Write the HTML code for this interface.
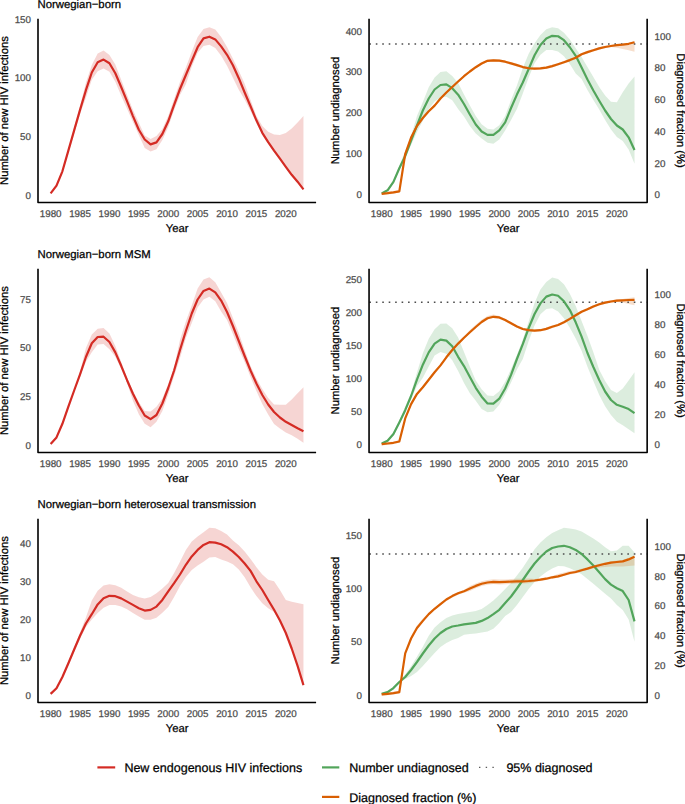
<!DOCTYPE html>
<html><head><meta charset="utf-8"><style>
html,body{margin:0;padding:0;background:#fff;}
body{width:685px;height:804px;overflow:hidden;}
svg{display:block;}
text{text-rendering:geometricPrecision;stroke-width:0.25px;paint-order:stroke;}
</style></head><body>
<svg width="685" height="804" viewBox="0 0 685 804" font-family="Liberation Sans, sans-serif">
<rect width="685" height="804" fill="#fff"/>
<text x="37.50" y="7.90" font-size="11.35" text-anchor="start" fill="#000" stroke="#000">Norwegian−born</text>
<path d="M50.64,192.80 L56.52,184.50 L62.40,169.70 L68.28,149.00 L74.16,127.50 L80.04,106.00 L85.92,82.80 L91.80,64.90 L97.68,53.40 L103.56,50.40 L109.44,54.90 L115.32,64.40 L121.19,79.80 L127.07,94.90 L132.95,110.00 L138.83,122.75 L144.71,135.50 L150.59,139.00 L156.47,136.10 L162.35,129.00 L168.23,116.00 L174.11,99.00 L179.99,82.00 L185.87,67.50 L191.75,51.80 L197.63,36.90 L203.51,29.00 L209.39,27.20 L215.27,29.50 L221.15,36.90 L227.03,46.90 L232.91,58.80 L238.78,70.70 L244.66,83.70 L250.54,100.00 L256.42,116.00 L262.30,125.90 L268.18,131.80 L274.06,134.40 L279.94,135.10 L285.82,133.10 L291.70,128.50 L297.58,122.60 L303.46,116.10 L303.46,190.30 L297.58,183.20 L291.70,176.30 L285.82,168.30 L279.94,160.10 L274.06,152.10 L268.18,143.60 L262.30,134.30 L256.42,123.20 L250.54,111.00 L244.66,99.60 L238.78,89.70 L232.91,77.70 L227.03,65.80 L221.15,55.80 L215.27,47.90 L209.39,44.70 L203.51,45.90 L197.63,52.80 L191.75,66.80 L185.87,84.20 L179.99,95.00 L174.11,110.00 L168.23,127.00 L162.35,140.00 L156.47,149.30 L150.59,151.50 L144.71,148.10 L138.83,135.05 L132.95,122.00 L127.07,108.85 L121.19,95.70 L115.32,81.80 L109.44,71.80 L103.56,68.40 L97.68,71.30 L91.80,79.80 L85.92,97.70 L80.04,114.00 L74.16,133.50 L68.28,153.00 L62.40,172.90 L56.52,186.70 L50.64,194.00 Z" fill="rgba(212,43,36,0.2)" stroke="none"/>
<path d="M50.64,193.40 L56.52,185.60 L62.40,171.30 L68.28,150.90 L74.16,130.40 L80.04,109.90 L85.92,90.20 L91.80,72.50 L97.68,62.30 L103.56,59.60 L109.44,63.20 L115.32,73.20 L121.19,87.00 L127.07,101.40 L132.95,116.10 L138.83,129.80 L144.71,139.50 L150.59,144.40 L156.47,142.40 L162.35,134.00 L168.23,121.30 L174.11,104.80 L179.99,89.00 L185.87,75.00 L191.75,61.00 L197.63,47.20 L203.51,38.40 L209.39,36.70 L215.27,39.40 L221.15,46.40 L227.03,54.80 L232.91,65.30 L238.78,78.20 L244.66,92.50 L250.54,106.20 L256.42,120.30 L262.30,132.80 L268.18,142.10 L274.06,150.60 L279.94,158.60 L285.82,166.80 L291.70,174.80 L297.58,181.70 L303.46,189.30" fill="none" stroke="#d42b24" stroke-width="2.2" stroke-linejoin="round" stroke-linecap="butt"/>
<path d="M38.00,18.70 L38.00,202.45 L316.10,202.45" fill="none" stroke="#000" stroke-width="1.6" stroke-linecap="butt" stroke-linejoin="round"/>
<text x="50.64" y="216.75" font-size="9.8" text-anchor="middle" fill="#4d4d4d" stroke="#4d4d4d">1980</text>
<text x="80.04" y="216.75" font-size="9.8" text-anchor="middle" fill="#4d4d4d" stroke="#4d4d4d">1985</text>
<text x="109.44" y="216.75" font-size="9.8" text-anchor="middle" fill="#4d4d4d" stroke="#4d4d4d">1990</text>
<text x="138.83" y="216.75" font-size="9.8" text-anchor="middle" fill="#4d4d4d" stroke="#4d4d4d">1995</text>
<text x="168.23" y="216.75" font-size="9.8" text-anchor="middle" fill="#4d4d4d" stroke="#4d4d4d">2000</text>
<text x="197.63" y="216.75" font-size="9.8" text-anchor="middle" fill="#4d4d4d" stroke="#4d4d4d">2005</text>
<text x="227.03" y="216.75" font-size="9.8" text-anchor="middle" fill="#4d4d4d" stroke="#4d4d4d">2010</text>
<text x="256.42" y="216.75" font-size="9.8" text-anchor="middle" fill="#4d4d4d" stroke="#4d4d4d">2015</text>
<text x="285.82" y="216.75" font-size="9.8" text-anchor="middle" fill="#4d4d4d" stroke="#4d4d4d">2020</text>
<text x="177.05" y="231.85" font-size="11.25" text-anchor="middle" fill="#000" stroke="#000">Year</text>
<text x="31.00" y="198.60" font-size="9.8" text-anchor="end" fill="#4d4d4d" stroke="#4d4d4d">0</text>
<text x="31.00" y="139.95" font-size="9.8" text-anchor="end" fill="#4d4d4d" stroke="#4d4d4d">50</text>
<text x="31.00" y="81.30" font-size="9.8" text-anchor="end" fill="#4d4d4d" stroke="#4d4d4d">100</text>
<text x="31.00" y="22.65" font-size="9.8" text-anchor="end" fill="#4d4d4d" stroke="#4d4d4d">150</text>
<text x="8.30" y="110.57" font-size="11.25" text-anchor="middle" fill="#000" stroke="#000" transform="rotate(-90 8.30 110.57)">Number of new HIV infections</text>
<path d="M381.69,192.80 L387.57,189.20 L393.45,180.30 L399.33,166.00 L405.21,151.00 L411.09,136.00 L416.97,116.00 L422.85,102.00 L428.73,87.20 L434.61,77.40 L440.49,72.00 L446.37,71.30 L452.24,76.00 L458.12,83.00 L464.00,94.50 L469.88,105.50 L475.76,116.00 L481.64,124.30 L487.52,128.80 L493.40,129.40 L499.28,125.30 L505.16,116.00 L511.04,100.00 L516.92,85.40 L522.80,68.10 L528.68,53.75 L534.56,43.15 L540.44,35.10 L546.32,29.25 L552.20,27.15 L558.08,28.20 L563.96,32.65 L569.83,39.45 L575.71,48.30 L581.59,57.00 L587.47,67.00 L593.35,77.00 L599.23,87.00 L605.11,95.50 L610.99,101.80 L616.87,102.20 L622.75,92.30 L628.63,83.40 L634.51,76.50 L634.51,163.80 L628.63,149.50 L622.75,141.00 L616.87,137.00 L610.99,129.50 L605.11,120.00 L599.23,109.50 L593.35,100.00 L587.47,90.00 L581.59,79.00 L575.71,73.55 L569.83,63.95 L563.96,56.35 L558.08,51.50 L552.20,50.00 L546.32,49.95 L540.44,54.75 L534.56,63.35 L528.68,77.50 L522.80,93.60 L516.92,109.00 L511.04,120.00 L505.16,130.40 L499.28,139.60 L493.40,143.70 L487.52,142.70 L481.64,138.60 L475.76,133.50 L469.88,126.00 L464.00,116.50 L458.12,109.00 L452.24,100.30 L446.37,96.80 L440.49,97.40 L434.61,101.50 L428.73,109.00 L422.85,120.70 L416.97,132.00 L411.09,145.00 L405.21,157.50 L399.33,170.00 L393.45,183.50 L387.57,191.40 L381.69,194.00 Z" fill="rgba(82,165,91,0.2)" stroke="none"/>
<path d="M381.69,192.50 L387.57,191.90 L393.45,191.10 L399.33,190.00 L405.21,152.70 L411.09,136.30 L416.97,124.70 L422.85,116.70 L428.73,109.90 L434.61,104.30 L440.49,97.20 L446.37,91.20 L452.24,85.70 L458.12,80.20 L464.00,74.90 L469.88,70.20 L475.76,65.90 L481.64,62.20 L487.52,59.50 L493.40,59.00 L499.28,59.30 L505.16,60.40 L511.04,62.10 L516.92,63.80 L522.80,65.75 L528.68,66.95 L534.56,67.30 L540.44,67.00 L546.32,66.30 L552.20,64.80 L558.08,62.90 L563.96,60.90 L569.83,58.80 L575.71,56.50 L581.59,52.90 L587.47,50.80 L593.35,48.90 L599.23,47.10 L605.11,45.70 L610.99,44.70 L616.87,43.90 L622.75,43.30 L628.63,42.80 L634.51,41.30 L634.51,51.70 L628.63,50.30 L622.75,49.10 L616.87,47.80 L610.99,47.00 L605.11,48.20 L599.23,49.70 L593.35,51.50 L587.47,53.40 L581.59,55.50 L575.71,59.10 L569.83,61.40 L563.96,63.50 L558.08,65.50 L552.20,67.40 L546.32,68.90 L540.44,69.60 L534.56,69.90 L528.68,69.55 L522.80,68.35 L516.92,66.40 L511.04,64.70 L505.16,63.00 L499.28,61.90 L493.40,61.60 L487.52,62.10 L481.64,64.80 L475.76,68.50 L469.88,72.80 L464.00,77.50 L458.12,82.80 L452.24,88.30 L446.37,93.80 L440.49,99.80 L434.61,106.90 L428.73,112.50 L422.85,119.30 L416.97,127.30 L411.09,138.90 L405.21,155.30 L399.33,192.60 L393.45,193.70 L387.57,194.50 L381.69,195.10 Z" fill="rgba(217,95,2,0.2)" stroke="none"/>
<line x1="369.35" y1="44.05" x2="647.15" y2="44.05" stroke="#4d4d4d" stroke-width="1.6" stroke-dasharray="1.6 4.85"/>
<path d="M381.69,193.40 L387.57,190.30 L393.45,181.90 L399.33,168.20 L405.21,156.00 L411.09,140.50 L416.97,125.30 L422.85,110.50 L428.73,98.50 L434.61,89.50 L440.49,85.00 L446.37,84.40 L452.24,88.20 L458.12,94.70 L464.00,104.00 L469.88,114.50 L475.76,124.50 L481.64,131.50 L487.52,134.90 L493.40,134.90 L499.28,130.40 L505.16,122.30 L511.04,108.00 L516.92,94.60 L522.80,82.50 L528.68,69.00 L534.56,55.30 L540.44,44.95 L546.32,38.60 L552.20,35.85 L558.08,36.25 L563.96,40.20 L569.83,47.25 L575.71,55.80 L581.59,67.50 L587.47,79.50 L593.35,90.50 L599.23,100.70 L605.11,110.50 L610.99,119.00 L616.87,125.50 L622.75,129.50 L628.63,137.30 L634.51,150.00" fill="none" stroke="#52a55b" stroke-width="2.2" stroke-linejoin="round" stroke-linecap="butt"/>
<path d="M381.69,193.80 L387.57,193.20 L393.45,192.40 L399.33,191.30 L405.21,154.00 L411.09,137.60 L416.97,126.00 L422.85,118.00 L428.73,111.20 L434.61,105.60 L440.49,98.50 L446.37,92.50 L452.24,87.00 L458.12,81.50 L464.00,76.20 L469.88,71.50 L475.76,67.20 L481.64,63.50 L487.52,60.80 L493.40,60.30 L499.28,60.60 L505.16,61.70 L511.04,63.40 L516.92,65.10 L522.80,67.05 L528.68,68.25 L534.56,68.60 L540.44,68.30 L546.32,67.60 L552.20,66.10 L558.08,64.20 L563.96,62.20 L569.83,60.10 L575.71,57.80 L581.59,54.20 L587.47,52.10 L593.35,50.20 L599.23,48.40 L605.11,47.00 L610.99,46.00 L616.87,45.20 L622.75,44.60 L628.63,43.80 L634.51,42.30" fill="none" stroke="#d95f02" stroke-width="2.2" stroke-linejoin="round" stroke-linecap="butt"/>
<path d="M369.05,18.70 L369.05,202.45 L647.15,202.45 L647.15,18.70" fill="none" stroke="#000" stroke-width="1.6" stroke-linecap="butt" stroke-linejoin="round"/>
<text x="381.69" y="216.75" font-size="9.8" text-anchor="middle" fill="#4d4d4d" stroke="#4d4d4d">1980</text>
<text x="411.09" y="216.75" font-size="9.8" text-anchor="middle" fill="#4d4d4d" stroke="#4d4d4d">1985</text>
<text x="440.49" y="216.75" font-size="9.8" text-anchor="middle" fill="#4d4d4d" stroke="#4d4d4d">1990</text>
<text x="469.88" y="216.75" font-size="9.8" text-anchor="middle" fill="#4d4d4d" stroke="#4d4d4d">1995</text>
<text x="499.28" y="216.75" font-size="9.8" text-anchor="middle" fill="#4d4d4d" stroke="#4d4d4d">2000</text>
<text x="528.68" y="216.75" font-size="9.8" text-anchor="middle" fill="#4d4d4d" stroke="#4d4d4d">2005</text>
<text x="558.08" y="216.75" font-size="9.8" text-anchor="middle" fill="#4d4d4d" stroke="#4d4d4d">2010</text>
<text x="587.47" y="216.75" font-size="9.8" text-anchor="middle" fill="#4d4d4d" stroke="#4d4d4d">2015</text>
<text x="616.87" y="216.75" font-size="9.8" text-anchor="middle" fill="#4d4d4d" stroke="#4d4d4d">2020</text>
<text x="508.10" y="231.85" font-size="11.25" text-anchor="middle" fill="#000" stroke="#000">Year</text>
<text x="362.00" y="198.30" font-size="9.8" text-anchor="end" fill="#4d4d4d" stroke="#4d4d4d">0</text>
<text x="362.00" y="157.35" font-size="9.8" text-anchor="end" fill="#4d4d4d" stroke="#4d4d4d">100</text>
<text x="362.00" y="116.40" font-size="9.8" text-anchor="end" fill="#4d4d4d" stroke="#4d4d4d">200</text>
<text x="362.00" y="75.45" font-size="9.8" text-anchor="end" fill="#4d4d4d" stroke="#4d4d4d">300</text>
<text x="362.00" y="34.50" font-size="9.8" text-anchor="end" fill="#4d4d4d" stroke="#4d4d4d">400</text>
<text x="654.50" y="198.40" font-size="9.8" text-anchor="start" fill="#4d4d4d" stroke="#4d4d4d">0</text>
<text x="654.50" y="166.62" font-size="9.8" text-anchor="start" fill="#4d4d4d" stroke="#4d4d4d">20</text>
<text x="654.50" y="134.84" font-size="9.8" text-anchor="start" fill="#4d4d4d" stroke="#4d4d4d">40</text>
<text x="654.50" y="103.06" font-size="9.8" text-anchor="start" fill="#4d4d4d" stroke="#4d4d4d">60</text>
<text x="654.50" y="71.28" font-size="9.8" text-anchor="start" fill="#4d4d4d" stroke="#4d4d4d">80</text>
<text x="654.50" y="39.50" font-size="9.8" text-anchor="start" fill="#4d4d4d" stroke="#4d4d4d">100</text>
<text x="338.80" y="110.57" font-size="11.25" text-anchor="middle" fill="#000" stroke="#000" transform="rotate(-90 338.80 110.57)">Number undiagnosed</text>
<text x="676.70" y="110.57" font-size="11.25" text-anchor="middle" fill="#000" stroke="#000" transform="rotate(90 676.70 110.57)">Diagnosed fraction (%)</text>
<text x="37.50" y="257.90" font-size="11.35" text-anchor="start" fill="#000" stroke="#000">Norwegian−born MSM</text>
<path d="M50.64,443.30 L56.52,436.30 L62.40,422.20 L68.28,404.70 L74.16,389.50 L80.04,372.00 L85.92,348.10 L91.80,334.50 L97.68,328.70 L103.56,328.00 L109.44,333.50 L115.32,346.00 L121.19,362.00 L127.07,378.00 L132.95,391.00 L138.83,402.10 L144.71,410.90 L150.59,411.60 L156.47,406.80 L162.35,398.50 L168.23,384.00 L174.11,367.50 L179.99,340.00 L185.87,321.50 L191.75,305.50 L197.63,288.40 L203.51,279.50 L209.39,277.20 L215.27,282.30 L221.15,292.40 L227.03,303.00 L232.91,318.00 L238.78,333.00 L244.66,350.00 L250.54,366.00 L256.42,378.50 L262.30,389.00 L268.18,398.00 L274.06,404.50 L279.94,404.80 L285.82,404.80 L291.70,399.40 L297.58,393.30 L303.46,387.20 L303.46,442.80 L297.58,438.70 L291.70,435.30 L285.82,432.60 L279.94,428.60 L274.06,424.00 L268.18,414.50 L262.30,404.00 L256.42,391.00 L250.54,377.00 L244.66,362.00 L238.78,349.00 L232.91,334.00 L227.03,320.00 L221.15,311.40 L215.27,301.30 L209.39,296.80 L203.51,299.50 L197.63,307.40 L191.75,323.00 L185.87,338.00 L179.99,358.00 L174.11,376.00 L168.23,394.50 L162.35,411.00 L156.47,421.80 L150.59,427.20 L144.71,423.80 L138.83,414.30 L132.95,400.70 L127.07,383.00 L121.19,368.80 L115.32,356.80 L109.44,349.20 L103.56,344.00 L97.68,344.50 L91.80,352.20 L85.92,361.70 L80.04,377.00 L74.16,391.50 L68.28,408.90 L62.40,425.40 L56.52,438.50 L50.64,444.50 Z" fill="rgba(212,43,36,0.2)" stroke="none"/>
<path d="M50.64,443.90 L56.52,437.40 L62.40,423.80 L68.28,406.80 L74.16,390.50 L80.04,374.30 L85.92,357.00 L91.80,343.30 L97.68,337.00 L103.56,336.70 L109.44,342.00 L115.32,352.40 L121.19,365.80 L127.07,380.20 L132.95,393.70 L138.83,405.50 L144.71,415.50 L150.59,419.10 L156.47,415.00 L162.35,403.50 L168.23,388.00 L174.11,370.50 L179.99,350.00 L185.87,331.00 L191.75,313.50 L197.63,299.50 L203.51,290.90 L209.39,288.60 L215.27,292.40 L221.15,300.60 L227.03,312.00 L232.91,326.00 L238.78,341.00 L244.66,356.00 L250.54,370.50 L256.42,383.50 L262.30,395.00 L268.18,404.50 L274.06,412.00 L279.94,417.50 L285.82,421.80 L291.70,425.00 L297.58,428.20 L303.46,431.20" fill="none" stroke="#d42b24" stroke-width="2.2" stroke-linejoin="round" stroke-linecap="butt"/>
<path d="M38.00,268.80 L38.00,452.45 L316.10,452.45" fill="none" stroke="#000" stroke-width="1.6" stroke-linecap="butt" stroke-linejoin="round"/>
<text x="50.64" y="466.75" font-size="9.8" text-anchor="middle" fill="#4d4d4d" stroke="#4d4d4d">1980</text>
<text x="80.04" y="466.75" font-size="9.8" text-anchor="middle" fill="#4d4d4d" stroke="#4d4d4d">1985</text>
<text x="109.44" y="466.75" font-size="9.8" text-anchor="middle" fill="#4d4d4d" stroke="#4d4d4d">1990</text>
<text x="138.83" y="466.75" font-size="9.8" text-anchor="middle" fill="#4d4d4d" stroke="#4d4d4d">1995</text>
<text x="168.23" y="466.75" font-size="9.8" text-anchor="middle" fill="#4d4d4d" stroke="#4d4d4d">2000</text>
<text x="197.63" y="466.75" font-size="9.8" text-anchor="middle" fill="#4d4d4d" stroke="#4d4d4d">2005</text>
<text x="227.03" y="466.75" font-size="9.8" text-anchor="middle" fill="#4d4d4d" stroke="#4d4d4d">2010</text>
<text x="256.42" y="466.75" font-size="9.8" text-anchor="middle" fill="#4d4d4d" stroke="#4d4d4d">2015</text>
<text x="285.82" y="466.75" font-size="9.8" text-anchor="middle" fill="#4d4d4d" stroke="#4d4d4d">2020</text>
<text x="177.05" y="481.85" font-size="11.25" text-anchor="middle" fill="#000" stroke="#000">Year</text>
<text x="31.00" y="448.70" font-size="9.8" text-anchor="end" fill="#4d4d4d" stroke="#4d4d4d">0</text>
<text x="31.00" y="400.03" font-size="9.8" text-anchor="end" fill="#4d4d4d" stroke="#4d4d4d">25</text>
<text x="31.00" y="351.37" font-size="9.8" text-anchor="end" fill="#4d4d4d" stroke="#4d4d4d">50</text>
<text x="31.00" y="302.70" font-size="9.8" text-anchor="end" fill="#4d4d4d" stroke="#4d4d4d">75</text>
<text x="8.30" y="360.62" font-size="11.25" text-anchor="middle" fill="#000" stroke="#000" transform="rotate(-90 8.30 360.62)">Number of new HIV infections</text>
<path d="M381.69,442.90 L387.57,439.70 L393.45,432.40 L399.33,420.50 L405.21,406.75 L411.09,393.00 L416.97,372.60 L422.85,353.30 L428.73,338.80 L434.61,329.20 L440.49,323.70 L446.37,323.50 L452.24,328.30 L458.12,337.50 L464.00,352.00 L469.88,366.80 L475.76,380.40 L481.64,389.20 L487.52,395.60 L493.40,396.00 L499.28,391.20 L505.16,381.70 L511.04,369.00 L516.92,355.00 L522.80,339.40 L528.68,321.50 L534.56,303.00 L540.44,289.60 L546.32,282.00 L552.20,277.60 L558.08,278.90 L563.96,284.30 L569.83,293.80 L575.71,306.00 L581.59,320.90 L587.47,335.90 L593.35,352.20 L599.23,369.80 L605.11,381.00 L610.99,390.10 L616.87,392.90 L622.75,388.50 L628.63,380.40 L634.51,372.20 L634.51,433.30 L628.63,429.20 L622.75,425.20 L616.87,421.80 L610.99,415.00 L605.11,406.20 L599.23,395.00 L593.35,381.00 L587.47,366.80 L581.59,350.80 L575.71,338.60 L569.83,327.70 L563.96,318.20 L558.08,311.40 L552.20,308.20 L546.32,309.00 L540.44,314.20 L534.56,325.40 L528.68,341.00 L522.80,359.00 L516.92,369.50 L511.04,382.40 L505.16,394.60 L499.28,404.80 L493.40,411.60 L487.52,412.30 L481.64,408.90 L475.76,400.70 L469.88,393.30 L464.00,383.10 L458.12,371.00 L452.24,360.30 L446.37,353.70 L440.49,352.00 L434.61,355.50 L428.73,366.40 L422.85,377.80 L416.97,386.00 L411.09,399.00 L405.21,411.50 L399.33,424.00 L393.45,435.60 L387.57,441.90 L381.69,444.10 Z" fill="rgba(82,165,91,0.2)" stroke="none"/>
<path d="M381.69,442.90 L387.57,442.20 L393.45,441.50 L399.33,440.20 L405.21,417.10 L411.09,402.80 L416.97,392.60 L422.85,385.90 L428.73,378.40 L434.61,370.90 L440.49,364.10 L446.37,356.00 L452.24,348.70 L458.12,342.30 L464.00,336.50 L469.88,330.10 L475.76,324.80 L481.64,319.80 L487.52,316.10 L493.40,314.60 L499.28,316.10 L505.16,318.70 L511.04,322.00 L516.92,325.20 L522.80,327.70 L528.68,328.90 L534.56,329.30 L540.44,328.90 L546.32,327.60 L552.20,325.50 L558.08,323.70 L563.96,321.00 L569.83,317.60 L575.71,313.90 L581.59,310.40 L587.47,308.00 L593.35,305.20 L599.23,303.00 L605.11,301.30 L610.99,300.20 L616.87,299.30 L622.75,299.00 L628.63,298.00 L634.51,297.20 L634.51,305.30 L628.63,304.00 L622.75,302.60 L616.87,301.90 L610.99,302.80 L605.11,303.90 L599.23,305.60 L593.35,307.80 L587.47,310.60 L581.59,313.00 L575.71,316.50 L569.83,320.20 L563.96,323.60 L558.08,326.30 L552.20,328.10 L546.32,330.20 L540.44,331.50 L534.56,331.90 L528.68,331.50 L522.80,330.30 L516.92,327.80 L511.04,324.60 L505.16,321.30 L499.28,318.70 L493.40,318.10 L487.52,319.60 L481.64,323.30 L475.76,328.30 L469.88,333.60 L464.00,339.10 L458.12,344.90 L452.24,351.30 L446.37,358.60 L440.49,366.70 L434.61,373.50 L428.73,381.00 L422.85,388.50 L416.97,395.20 L411.09,405.40 L405.21,419.70 L399.33,442.80 L393.45,444.10 L387.57,444.80 L381.69,445.50 Z" fill="rgba(217,95,2,0.2)" stroke="none"/>
<line x1="369.35" y1="302.29" x2="647.15" y2="302.29" stroke="#4d4d4d" stroke-width="1.6" stroke-dasharray="1.6 4.85"/>
<path d="M381.69,443.50 L387.57,440.80 L393.45,434.00 L399.33,422.40 L405.21,410.20 L411.09,396.00 L416.97,379.60 L422.85,364.70 L428.73,352.40 L434.61,343.60 L440.49,339.70 L446.37,340.60 L452.24,346.30 L458.12,356.80 L464.00,366.10 L469.88,377.00 L475.76,387.80 L481.64,396.70 L487.52,403.40 L493.40,403.70 L499.28,398.70 L505.16,388.50 L511.04,374.90 L516.92,359.00 L522.80,344.20 L528.68,328.00 L534.56,314.00 L540.44,303.40 L546.32,296.60 L552.20,294.50 L558.08,295.80 L563.96,301.30 L569.83,310.10 L575.71,322.30 L581.59,336.60 L587.47,353.00 L593.35,367.00 L599.23,380.00 L605.11,391.50 L610.99,400.00 L616.87,404.80 L622.75,406.80 L628.63,409.10 L634.51,413.20" fill="none" stroke="#52a55b" stroke-width="2.2" stroke-linejoin="round" stroke-linecap="butt"/>
<path d="M381.69,444.20 L387.57,443.50 L393.45,442.80 L399.33,441.50 L405.21,418.40 L411.09,404.10 L416.97,393.90 L422.85,387.20 L428.73,379.70 L434.61,372.20 L440.49,365.40 L446.37,357.30 L452.24,350.00 L458.12,343.60 L464.00,337.80 L469.88,332.30 L475.76,327.00 L481.64,322.00 L487.52,318.30 L493.40,316.80 L499.28,317.40 L505.16,320.00 L511.04,323.30 L516.92,326.50 L522.80,329.00 L528.68,330.20 L534.56,330.60 L540.44,330.20 L546.32,328.90 L552.20,326.80 L558.08,325.00 L563.96,322.30 L569.83,318.90 L575.71,315.20 L581.59,311.70 L587.47,309.30 L593.35,306.50 L599.23,304.30 L605.11,302.60 L610.99,301.50 L616.87,300.60 L622.75,300.30 L628.63,300.00 L634.51,299.80" fill="none" stroke="#d95f02" stroke-width="2.2" stroke-linejoin="round" stroke-linecap="butt"/>
<path d="M369.05,268.80 L369.05,452.45 L647.15,452.45 L647.15,268.80" fill="none" stroke="#000" stroke-width="1.6" stroke-linecap="butt" stroke-linejoin="round"/>
<text x="381.69" y="466.75" font-size="9.8" text-anchor="middle" fill="#4d4d4d" stroke="#4d4d4d">1980</text>
<text x="411.09" y="466.75" font-size="9.8" text-anchor="middle" fill="#4d4d4d" stroke="#4d4d4d">1985</text>
<text x="440.49" y="466.75" font-size="9.8" text-anchor="middle" fill="#4d4d4d" stroke="#4d4d4d">1990</text>
<text x="469.88" y="466.75" font-size="9.8" text-anchor="middle" fill="#4d4d4d" stroke="#4d4d4d">1995</text>
<text x="499.28" y="466.75" font-size="9.8" text-anchor="middle" fill="#4d4d4d" stroke="#4d4d4d">2000</text>
<text x="528.68" y="466.75" font-size="9.8" text-anchor="middle" fill="#4d4d4d" stroke="#4d4d4d">2005</text>
<text x="558.08" y="466.75" font-size="9.8" text-anchor="middle" fill="#4d4d4d" stroke="#4d4d4d">2010</text>
<text x="587.47" y="466.75" font-size="9.8" text-anchor="middle" fill="#4d4d4d" stroke="#4d4d4d">2015</text>
<text x="616.87" y="466.75" font-size="9.8" text-anchor="middle" fill="#4d4d4d" stroke="#4d4d4d">2020</text>
<text x="508.10" y="481.85" font-size="11.25" text-anchor="middle" fill="#000" stroke="#000">Year</text>
<text x="362.00" y="448.20" font-size="9.8" text-anchor="end" fill="#4d4d4d" stroke="#4d4d4d">0</text>
<text x="362.00" y="415.12" font-size="9.8" text-anchor="end" fill="#4d4d4d" stroke="#4d4d4d">50</text>
<text x="362.00" y="382.04" font-size="9.8" text-anchor="end" fill="#4d4d4d" stroke="#4d4d4d">100</text>
<text x="362.00" y="348.96" font-size="9.8" text-anchor="end" fill="#4d4d4d" stroke="#4d4d4d">150</text>
<text x="362.00" y="315.88" font-size="9.8" text-anchor="end" fill="#4d4d4d" stroke="#4d4d4d">200</text>
<text x="362.00" y="282.80" font-size="9.8" text-anchor="end" fill="#4d4d4d" stroke="#4d4d4d">250</text>
<text x="654.50" y="448.00" font-size="9.8" text-anchor="start" fill="#4d4d4d" stroke="#4d4d4d">0</text>
<text x="654.50" y="418.04" font-size="9.8" text-anchor="start" fill="#4d4d4d" stroke="#4d4d4d">20</text>
<text x="654.50" y="388.08" font-size="9.8" text-anchor="start" fill="#4d4d4d" stroke="#4d4d4d">40</text>
<text x="654.50" y="358.12" font-size="9.8" text-anchor="start" fill="#4d4d4d" stroke="#4d4d4d">60</text>
<text x="654.50" y="328.16" font-size="9.8" text-anchor="start" fill="#4d4d4d" stroke="#4d4d4d">80</text>
<text x="654.50" y="298.20" font-size="9.8" text-anchor="start" fill="#4d4d4d" stroke="#4d4d4d">100</text>
<text x="338.80" y="360.62" font-size="11.25" text-anchor="middle" fill="#000" stroke="#000" transform="rotate(-90 338.80 360.62)">Number undiagnosed</text>
<text x="676.70" y="360.62" font-size="11.25" text-anchor="middle" fill="#000" stroke="#000" transform="rotate(90 676.70 360.62)">Diagnosed fraction (%)</text>
<text x="37.50" y="507.90" font-size="11.35" text-anchor="start" fill="#000" stroke="#000">Norwegian−born heterosexual transmission</text>
<path d="M50.64,693.30 L56.52,687.10 L62.40,675.40 L68.28,661.50 L74.16,647.50 L80.04,632.50 L85.92,617.40 L91.80,600.50 L97.68,590.70 L103.56,585.60 L109.44,584.30 L115.32,585.20 L121.19,587.80 L127.07,591.40 L132.95,595.10 L138.83,597.30 L144.71,598.40 L150.59,596.90 L156.47,593.20 L162.35,588.50 L168.23,583.00 L174.11,573.00 L179.99,561.80 L185.87,549.90 L191.75,541.40 L197.63,536.50 L203.51,532.20 L209.39,527.80 L215.27,528.20 L221.15,530.90 L227.03,534.50 L232.91,540.40 L238.78,545.30 L244.66,551.40 L250.54,559.10 L256.42,567.20 L262.30,574.50 L268.18,579.80 L274.06,581.30 L279.94,590.10 L285.82,600.10 L291.70,601.80 L297.58,603.10 L303.46,604.30 L303.46,686.10 L297.58,666.90 L291.70,649.50 L285.82,634.00 L279.94,621.50 L274.06,612.00 L268.18,608.20 L262.30,603.20 L256.42,596.10 L250.54,587.30 L244.66,577.20 L238.78,569.50 L232.91,564.20 L227.03,561.40 L221.15,559.40 L215.27,557.10 L209.39,557.40 L203.51,561.80 L197.63,565.60 L191.75,570.00 L185.87,577.00 L179.99,586.00 L174.11,597.00 L168.23,606.90 L162.35,612.80 L156.47,617.80 L150.59,619.80 L144.71,619.80 L138.83,616.60 L132.95,613.00 L127.07,609.30 L121.19,606.40 L115.32,604.90 L109.44,604.90 L103.56,607.80 L97.68,613.00 L91.80,619.50 L85.92,626.90 L80.04,639.00 L74.16,652.00 L68.28,665.50 L62.40,678.60 L56.52,689.30 L50.64,694.50 Z" fill="rgba(212,43,36,0.2)" stroke="none"/>
<path d="M50.64,693.90 L56.52,688.20 L62.40,677.00 L68.28,663.50 L74.16,649.50 L80.04,635.80 L85.92,623.50 L91.80,614.20 L97.68,604.40 L103.56,598.20 L109.44,595.80 L115.32,596.20 L121.19,598.40 L127.07,601.60 L132.95,604.90 L138.83,608.20 L144.71,610.60 L150.59,609.90 L156.47,606.60 L162.35,599.90 L168.23,591.40 L174.11,583.20 L179.99,574.50 L185.87,564.80 L191.75,556.40 L197.63,549.90 L203.51,544.90 L209.39,542.20 L215.27,542.60 L221.15,544.30 L227.03,547.20 L232.91,551.60 L238.78,557.00 L244.66,563.50 L250.54,570.90 L256.42,581.30 L262.30,590.00 L268.18,600.00 L274.06,609.80 L279.94,620.50 L285.82,633.00 L291.70,648.50 L297.58,665.90 L303.46,685.10" fill="none" stroke="#d42b24" stroke-width="2.2" stroke-linejoin="round" stroke-linecap="butt"/>
<path d="M38.00,518.80 L38.00,702.45 L316.10,702.45" fill="none" stroke="#000" stroke-width="1.6" stroke-linecap="butt" stroke-linejoin="round"/>
<text x="50.64" y="716.75" font-size="9.8" text-anchor="middle" fill="#4d4d4d" stroke="#4d4d4d">1980</text>
<text x="80.04" y="716.75" font-size="9.8" text-anchor="middle" fill="#4d4d4d" stroke="#4d4d4d">1985</text>
<text x="109.44" y="716.75" font-size="9.8" text-anchor="middle" fill="#4d4d4d" stroke="#4d4d4d">1990</text>
<text x="138.83" y="716.75" font-size="9.8" text-anchor="middle" fill="#4d4d4d" stroke="#4d4d4d">1995</text>
<text x="168.23" y="716.75" font-size="9.8" text-anchor="middle" fill="#4d4d4d" stroke="#4d4d4d">2000</text>
<text x="197.63" y="716.75" font-size="9.8" text-anchor="middle" fill="#4d4d4d" stroke="#4d4d4d">2005</text>
<text x="227.03" y="716.75" font-size="9.8" text-anchor="middle" fill="#4d4d4d" stroke="#4d4d4d">2010</text>
<text x="256.42" y="716.75" font-size="9.8" text-anchor="middle" fill="#4d4d4d" stroke="#4d4d4d">2015</text>
<text x="285.82" y="716.75" font-size="9.8" text-anchor="middle" fill="#4d4d4d" stroke="#4d4d4d">2020</text>
<text x="177.05" y="731.85" font-size="11.25" text-anchor="middle" fill="#000" stroke="#000">Year</text>
<text x="31.00" y="698.80" font-size="9.8" text-anchor="end" fill="#4d4d4d" stroke="#4d4d4d">0</text>
<text x="31.00" y="660.75" font-size="9.8" text-anchor="end" fill="#4d4d4d" stroke="#4d4d4d">10</text>
<text x="31.00" y="622.70" font-size="9.8" text-anchor="end" fill="#4d4d4d" stroke="#4d4d4d">20</text>
<text x="31.00" y="584.65" font-size="9.8" text-anchor="end" fill="#4d4d4d" stroke="#4d4d4d">30</text>
<text x="31.00" y="546.60" font-size="9.8" text-anchor="end" fill="#4d4d4d" stroke="#4d4d4d">40</text>
<text x="8.30" y="610.62" font-size="11.25" text-anchor="middle" fill="#000" stroke="#000" transform="rotate(-90 8.30 610.62)">Number of new HIV infections</text>
<path d="M381.69,693.30 L387.57,691.00 L393.45,686.50 L399.33,681.00 L405.21,674.50 L411.09,666.30 L416.97,656.80 L422.85,646.70 L428.73,635.80 L434.61,627.60 L440.49,622.20 L446.37,618.10 L452.24,615.40 L458.12,614.10 L464.00,613.00 L469.88,612.00 L475.76,611.00 L481.64,609.00 L487.52,605.00 L493.40,600.50 L499.28,595.00 L505.16,589.00 L511.04,583.00 L516.92,575.50 L522.80,567.80 L528.68,558.70 L534.56,549.30 L540.44,542.60 L546.32,537.20 L552.20,532.90 L558.08,530.20 L563.96,527.80 L569.83,528.50 L575.71,529.50 L581.59,531.60 L587.47,535.00 L593.35,538.40 L599.23,542.40 L605.11,547.20 L610.99,551.30 L616.87,550.60 L622.75,545.80 L628.63,545.80 L634.51,552.60 L634.51,641.80 L628.63,619.40 L622.75,609.90 L616.87,605.10 L610.99,598.50 L605.11,593.80 L599.23,588.70 L593.35,583.80 L587.47,579.10 L581.59,574.30 L575.71,570.90 L569.83,568.20 L563.96,566.20 L558.08,566.00 L552.20,568.50 L546.32,572.00 L540.44,576.50 L534.56,582.00 L528.68,589.00 L522.80,597.00 L516.92,605.00 L511.04,612.00 L505.16,616.10 L499.28,622.90 L493.40,628.70 L487.52,631.40 L481.64,632.40 L475.76,633.40 L469.88,634.00 L464.00,634.80 L458.12,638.00 L452.24,640.00 L446.37,643.00 L440.49,647.00 L434.61,653.00 L428.73,659.50 L422.85,666.00 L416.97,672.00 L411.09,676.00 L405.21,679.00 L399.33,683.50 L393.45,689.70 L387.57,693.20 L381.69,694.50 Z" fill="rgba(82,165,91,0.2)" stroke="none"/>
<path d="M381.69,693.00 L387.57,692.40 L393.45,691.70 L399.33,690.70 L405.21,652.00 L411.09,636.00 L416.97,625.50 L422.85,618.50 L428.73,612.70 L434.61,607.40 L440.49,602.80 L446.37,598.10 L452.24,594.70 L458.12,591.90 L464.00,589.90 L469.88,586.10 L475.76,583.40 L481.64,581.30 L487.52,580.00 L493.40,579.30 L499.28,579.60 L505.16,579.40 L511.04,579.10 L516.92,578.80 L522.80,578.80 L528.68,578.50 L534.56,579.10 L540.44,578.30 L546.32,577.30 L552.20,575.90 L558.08,574.00 L563.96,572.50 L569.83,571.00 L575.71,570.60 L581.59,568.80 L587.47,567.20 L593.35,565.40 L599.23,563.80 L605.11,562.40 L610.99,561.30 L616.87,560.60 L622.75,560.00 L628.63,558.00 L634.51,555.30 L634.51,565.50 L628.63,566.00 L622.75,566.50 L616.87,566.50 L610.99,566.50 L605.11,567.00 L599.23,567.50 L593.35,568.50 L587.47,570.00 L581.59,571.50 L575.71,573.40 L569.83,574.40 L563.96,576.10 L558.08,577.80 L552.20,578.70 L546.32,580.10 L540.44,581.10 L534.56,581.90 L528.68,583.30 L522.80,583.60 L516.92,583.60 L511.04,583.90 L505.16,584.20 L499.28,584.40 L493.40,584.10 L487.52,584.80 L481.64,586.10 L475.76,588.20 L469.88,590.90 L464.00,592.70 L458.12,594.70 L452.24,597.50 L446.37,600.90 L440.49,605.60 L434.61,610.20 L428.73,615.50 L422.85,622.30 L416.97,629.40 L411.09,639.90 L405.21,654.80 L399.33,693.50 L393.45,694.50 L387.57,695.20 L381.69,695.80 Z" fill="rgba(217,95,2,0.2)" stroke="none"/>
<line x1="369.35" y1="554.03" x2="647.15" y2="554.03" stroke="#4d4d4d" stroke-width="1.6" stroke-dasharray="1.6 4.85"/>
<path d="M381.69,693.90 L387.57,692.10 L393.45,688.10 L399.33,682.00 L405.21,677.00 L411.09,670.00 L416.97,662.00 L422.85,653.50 L428.73,645.50 L434.61,638.50 L440.49,633.00 L446.37,629.00 L452.24,626.50 L458.12,625.50 L464.00,624.30 L469.88,623.60 L475.76,622.90 L481.64,620.90 L487.52,618.10 L493.40,614.10 L499.28,609.80 L505.16,603.00 L511.04,596.50 L516.92,588.50 L522.80,580.00 L528.68,571.50 L534.56,563.50 L540.44,557.00 L546.32,551.50 L552.20,548.00 L558.08,546.50 L563.96,545.80 L569.83,547.20 L575.71,549.90 L581.59,554.00 L587.47,559.40 L593.35,565.50 L599.23,572.30 L605.11,579.10 L610.99,584.60 L616.87,588.20 L622.75,591.10 L628.63,600.00 L634.51,621.40" fill="none" stroke="#52a55b" stroke-width="2.2" stroke-linejoin="round" stroke-linecap="butt"/>
<path d="M381.69,694.40 L387.57,693.80 L393.45,693.10 L399.33,692.10 L405.21,653.40 L411.09,638.50 L416.97,628.00 L422.85,620.90 L428.73,614.10 L434.61,608.80 L440.49,604.20 L446.37,599.50 L452.24,596.10 L458.12,593.30 L464.00,591.30 L469.88,588.60 L475.76,585.90 L481.64,583.80 L487.52,582.50 L493.40,581.80 L499.28,582.10 L505.16,581.90 L511.04,581.60 L516.92,581.30 L522.80,581.30 L528.68,581.00 L534.56,580.50 L540.44,579.70 L546.32,578.70 L552.20,577.30 L558.08,576.40 L563.96,574.70 L569.83,573.00 L575.71,572.00 L581.59,570.20 L587.47,568.60 L593.35,566.80 L599.23,565.20 L605.11,563.80 L610.99,562.70 L616.87,562.00 L622.75,561.40 L628.63,559.40 L634.51,556.70" fill="none" stroke="#d95f02" stroke-width="2.2" stroke-linejoin="round" stroke-linecap="butt"/>
<path d="M369.05,518.80 L369.05,702.45 L647.15,702.45 L647.15,518.80" fill="none" stroke="#000" stroke-width="1.6" stroke-linecap="butt" stroke-linejoin="round"/>
<text x="381.69" y="716.75" font-size="9.8" text-anchor="middle" fill="#4d4d4d" stroke="#4d4d4d">1980</text>
<text x="411.09" y="716.75" font-size="9.8" text-anchor="middle" fill="#4d4d4d" stroke="#4d4d4d">1985</text>
<text x="440.49" y="716.75" font-size="9.8" text-anchor="middle" fill="#4d4d4d" stroke="#4d4d4d">1990</text>
<text x="469.88" y="716.75" font-size="9.8" text-anchor="middle" fill="#4d4d4d" stroke="#4d4d4d">1995</text>
<text x="499.28" y="716.75" font-size="9.8" text-anchor="middle" fill="#4d4d4d" stroke="#4d4d4d">2000</text>
<text x="528.68" y="716.75" font-size="9.8" text-anchor="middle" fill="#4d4d4d" stroke="#4d4d4d">2005</text>
<text x="558.08" y="716.75" font-size="9.8" text-anchor="middle" fill="#4d4d4d" stroke="#4d4d4d">2010</text>
<text x="587.47" y="716.75" font-size="9.8" text-anchor="middle" fill="#4d4d4d" stroke="#4d4d4d">2015</text>
<text x="616.87" y="716.75" font-size="9.8" text-anchor="middle" fill="#4d4d4d" stroke="#4d4d4d">2020</text>
<text x="508.10" y="731.85" font-size="11.25" text-anchor="middle" fill="#000" stroke="#000">Year</text>
<text x="362.00" y="698.70" font-size="9.8" text-anchor="end" fill="#4d4d4d" stroke="#4d4d4d">0</text>
<text x="362.00" y="645.46" font-size="9.8" text-anchor="end" fill="#4d4d4d" stroke="#4d4d4d">50</text>
<text x="362.00" y="592.23" font-size="9.8" text-anchor="end" fill="#4d4d4d" stroke="#4d4d4d">100</text>
<text x="362.00" y="539.00" font-size="9.8" text-anchor="end" fill="#4d4d4d" stroke="#4d4d4d">150</text>
<text x="654.50" y="698.70" font-size="9.8" text-anchor="start" fill="#4d4d4d" stroke="#4d4d4d">0</text>
<text x="654.50" y="668.96" font-size="9.8" text-anchor="start" fill="#4d4d4d" stroke="#4d4d4d">20</text>
<text x="654.50" y="639.22" font-size="9.8" text-anchor="start" fill="#4d4d4d" stroke="#4d4d4d">40</text>
<text x="654.50" y="609.48" font-size="9.8" text-anchor="start" fill="#4d4d4d" stroke="#4d4d4d">60</text>
<text x="654.50" y="579.74" font-size="9.8" text-anchor="start" fill="#4d4d4d" stroke="#4d4d4d">80</text>
<text x="654.50" y="550.00" font-size="9.8" text-anchor="start" fill="#4d4d4d" stroke="#4d4d4d">100</text>
<text x="338.80" y="610.62" font-size="11.25" text-anchor="middle" fill="#000" stroke="#000" transform="rotate(-90 338.80 610.62)">Number undiagnosed</text>
<text x="676.70" y="610.62" font-size="11.25" text-anchor="middle" fill="#000" stroke="#000" transform="rotate(90 676.70 610.62)">Diagnosed fraction (%)</text>
<line x1="97.4" y1="767.4" x2="115.2" y2="767.4" stroke="#d42b24" stroke-width="2.2"/>
<text x="124.40" y="772.20" font-size="12.5" text-anchor="start" fill="#000" stroke="#000">New endogenous HIV infections</text>
<line x1="322.0" y1="767.4" x2="339.3" y2="767.4" stroke="#52a55b" stroke-width="2.2"/>
<text x="349.20" y="772.20" font-size="12.5" text-anchor="start" fill="#000" stroke="#000">Number undiagnosed</text>
<line x1="479.0" y1="767.4" x2="496.5" y2="767.4" stroke="#5a5a5a" stroke-width="1.4" stroke-dasharray="1.4 5.3"/>
<text x="506.40" y="772.20" font-size="12.5" text-anchor="start" fill="#000" stroke="#000">95% diagnosed</text>
<line x1="322.0" y1="796.9" x2="339.3" y2="796.9" stroke="#d95f02" stroke-width="2.2"/>
<text x="349.20" y="801.50" font-size="12.5" text-anchor="start" fill="#000" stroke="#000">Diagnosed fraction (%)</text>
</svg>
</body></html>
